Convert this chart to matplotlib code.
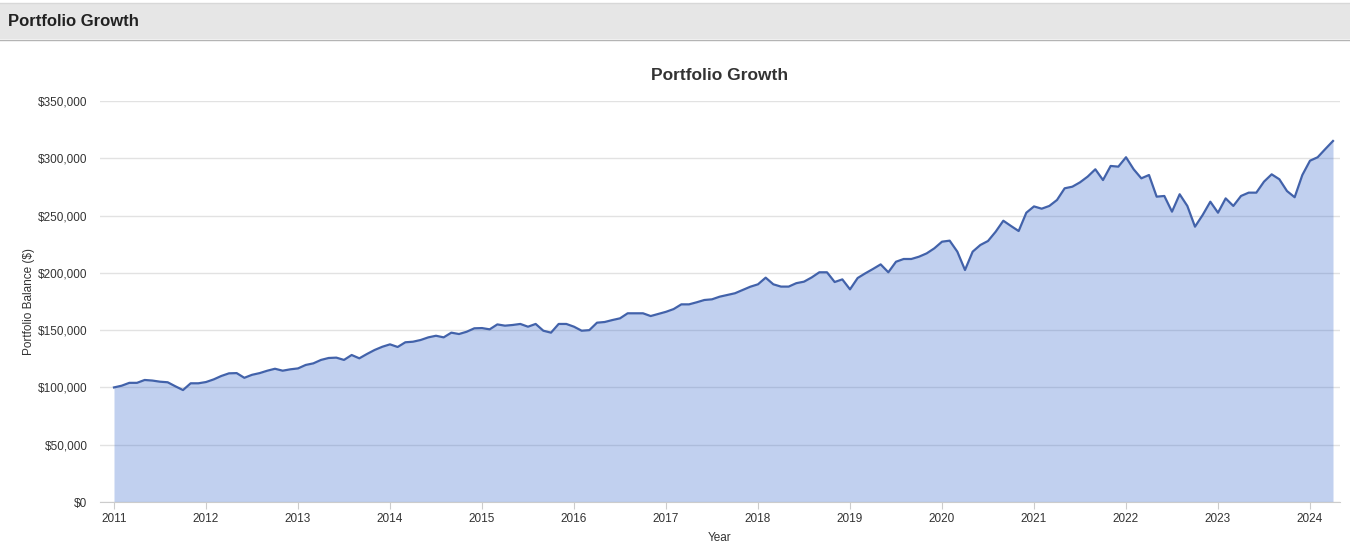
import matplotlib.pyplot as plt
from matplotlib.patches import Rectangle
from matplotlib.ticker import FuncFormatter
import numpy as np

plt.rcParams['font.family'] = ['Liberation Sans', 'DejaVu Sans']

# monthly portfolio balance, thousands of dollars, Jan 2011 .. Apr 2024
start_year = 2011
balance_k = [
    100.0, 101.5, 104.0, 104.0, 106.5, 106.0, 105.0, 104.5, 101.0, 97.7, 103.6, 103.6,
    104.7, 107.0, 110.0, 112.3, 112.5, 108.4, 111.0, 112.5, 114.6, 116.3, 114.6, 115.8,
    116.6, 119.6, 121.0, 124.0, 125.7, 126.0, 124.0, 128.3, 125.4, 129.2, 132.7, 135.5,
    137.6, 135.3, 139.4, 139.9, 141.4, 143.7, 145.1, 143.7, 147.8, 146.6, 148.6, 151.6,
    151.8, 150.7, 155.0, 153.9, 154.5, 155.4, 153.0, 155.4, 149.5, 147.8, 155.4, 155.4,
    153.0, 149.5, 150.0, 156.5, 157.1, 158.8, 160.3, 164.7, 164.7, 164.7, 162.3, 164.1,
    166.0, 168.4, 172.5, 172.5, 174.3, 176.3, 176.9, 179.2, 180.7, 182.2, 185.0, 187.9,
    190.0, 195.8, 190.0, 188.0, 188.0, 191.0, 192.3, 196.0, 200.5, 200.5, 192.0, 194.3,
    185.6, 195.5, 199.6, 203.4, 207.4, 200.5, 209.7, 212.1, 212.1, 214.1, 217.0, 221.4,
    227.2, 228.1, 218.5, 202.5, 218.5, 224.3, 227.8, 235.9, 245.5, 240.9, 236.5, 252.5,
    258.0, 256.0, 258.4, 263.6, 273.8, 275.2, 279.0, 284.0, 290.4, 281.0, 293.3, 292.7,
    300.9, 290.4, 282.5, 285.4, 266.5, 267.1, 253.4, 268.6, 258.4, 240.3, 250.5, 262.1,
    252.5, 265.0, 258.4, 267.1, 270.0, 270.0, 279.6, 286.0, 281.7, 271.4, 266.0, 285.4,
    297.9, 300.9, 308.1, 315.1,
]
year_ticks = list(range(2011, 2025))
y_ticks = [0, 50000, 100000, 150000, 200000, 250000, 300000, 350000]

balance = np.array(balance_k) * 1000
x = start_year + np.arange(len(balance)) / 12

fig = plt.figure(figsize=(13.5, 5.5), dpi=100)

# header band
fig.patches.append(Rectangle((0, 1 - 39 / 550), 1, 36 / 550, transform=fig.transFigure,
                             facecolor='#e6e6e6', edgecolor='none', zorder=0))
fig.add_artist(plt.Line2D([0, 1], [1 - 39.5 / 550] * 2, transform=fig.transFigure,
                          color='#b4b4b4', lw=1))
fig.add_artist(plt.Line2D([0, 1], [1 - 3 / 550] * 2, transform=fig.transFigure,
                          color='#d8d8d8', lw=1))
fig.text(8 / 1350, 1 - 21 / 550, 'Portfolio Growth', fontsize=12, fontweight='bold',
         color='#222222', va='center', ha='left')

ax = fig.add_axes([100 / 1350, 1 - 502 / 550, 1240 / 1350, 401 / 550])
ax.fill_between(x, 0, balance, color='#3366cc', alpha=0.3, lw=0, zorder=2)
ax.plot(x, balance, color='#4262aa', lw=1.6, zorder=3)

ax.set_xlim(2011 - 14 / 92, 2011 + 1226 / 92)
ax.set_ylim(0, 350000)
ax.set_xticks(year_ticks)
ax.set_yticks(y_ticks)
ax.yaxis.set_major_formatter(FuncFormatter(lambda v, p: '${:,.0f}'.format(v)))
ax.grid(axis='y', color='#e2e2e2', lw=1, zorder=1)
ax.set_axisbelow(True)

for s in ['top', 'right', 'left']:
    ax.spines[s].set_visible(False)
ax.spines['bottom'].set_color('#cccccc')
ax.tick_params(axis='y', length=0, pad=9, labelsize=8.5, labelcolor='#333333')
ax.tick_params(axis='x', length=5, color='#cccccc', pad=3, labelsize=8.5, labelcolor='#333333')

ax.set_ylabel('Portfolio Balance ($)', fontsize=8.5, color='#333333', labelpad=2)
ax.set_xlabel('Year', fontsize=8.5, color='#333333', labelpad=5)
ax.set_title('Portfolio Growth', fontsize=12.5, fontweight='bold', color='#333333', pad=15)

fig.savefig('out.png', dpi=100)
